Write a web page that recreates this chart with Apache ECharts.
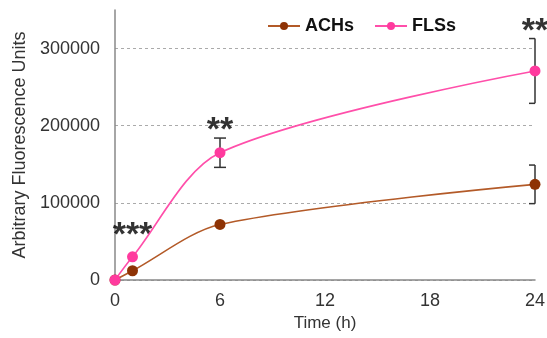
<!DOCTYPE html>
<html>
<head>
<meta charset="utf-8">
<script src="https://cdn.jsdelivr.net/npm/echarts@6/dist/echarts.min.js"></script>
<style>
  html, body { margin: 0; padding: 0; background: #fff; }
  #chart { width: 547px; height: 338px; }
</style>
</head>
<body>
<div id="chart"></div>
<script>
// data
var hours = [0, 1, 6, 24];
var achMean = [0, 12000, 72000, 124000];
var achErr = [0, 0, 0, 25000];
var flsMean = [0, 30000, 165000, 271000];
var flsErr = [0, 0, 19000, 42000];
// significance marks: [hour, y position, text]
var sigHours = [1, 6, 24];
var sigY = [57000, 193000, 322000];
var sigText = ['***', '**', '**'];

var chart = echarts.init(document.getElementById('chart'));

function pairs(xs, ys) {
  var out = [];
  for (var i = 0; i < xs.length; i++) out.push([xs[i], ys[i]]);
  return out;
}

function errData(xs, ys, es) {
  var out = [];
  for (var i = 0; i < xs.length; i++) {
    if (es[i] > 0) out.push([xs[i], ys[i] - es[i], ys[i] + es[i]]);
  }
  return out;
}

function renderErr(params, api) {
  var lo = api.coord([api.value(0), api.value(1)]);
  var hi = api.coord([api.value(0), api.value(2)]);
  var w = 6;
  // caps at the right edge of the plot only stick out to the left
  var wr = api.value(0) >= 24 ? 0 : w;
  var st = { stroke: '#333', lineWidth: 1.5 };
  return {
    type: 'group',
    children: [
      { type: 'line', shape: { x1: lo[0], y1: lo[1], x2: hi[0], y2: hi[1] }, style: st },
      { type: 'line', shape: { x1: lo[0] - w, y1: lo[1], x2: lo[0] + wr, y2: lo[1] }, style: st },
      { type: 'line', shape: { x1: hi[0] - w, y1: hi[1], x2: hi[0] + wr, y2: hi[1] }, style: st }
    ]
  };
}

var sigData = [];
for (var i = 0; i < sigHours.length; i++) {
  sigData.push({ value: [sigHours[i], sigY[i]], label: { formatter: sigText[i] } });
}

chart.setOption({
  animation: false,
  textStyle: { fontFamily: 'Liberation Sans, Arial, sans-serif' },
  grid: { left: 115, right: 12, top: 10, bottom: 58, outerBoundsMode: 'none' },
  legend: {
    top: 12,
    left: 262,
    itemWidth: 32,
    itemHeight: 10,
    itemGap: 20,
    data: ['ACHs', 'FLSs'],
    textStyle: { fontSize: 18, fontWeight: 'bold', color: '#111' }
  },
  xAxis: {
    type: 'value',
    min: 0,
    max: 24,
    interval: 6,
    name: 'Time (h)',
    nameLocation: 'middle',
    nameGap: 20,
    nameTextStyle: { fontSize: 17, color: '#333' },
    axisLine: { lineStyle: { color: '#888', width: 1.5 } },
    axisTick: { show: false },
    axisLabel: { fontSize: 18, color: '#333', margin: 12 },
    splitLine: { show: false }
  },
  yAxis: {
    type: 'value',
    min: 0,
    max: 350000,
    interval: 100000,
    name: 'Arbitrary Fluorescence Units',
    nameLocation: 'middle',
    nameGap: 80,
    nameTextStyle: { fontSize: 18, color: '#333' },
    axisLine: { show: true, lineStyle: { color: '#888', width: 1.5 } },
    axisTick: { show: false },
    axisLabel: {
      fontSize: 18,
      color: '#333',
      margin: 15,
      formatter: function (v) { return v > 300000 ? '' : String(v); }
    },
    splitLine: { show: true, showMaxLine: false, lineStyle: { color: '#aaa', type: [3, 3], width: 1 } }
  },
  series: [
    {
      name: 'ACHs',
      type: 'line',
      smooth: 0.3,
      data: pairs(hours, achMean),
      symbol: 'circle',
      symbolSize: 11,
      lineStyle: { color: '#B35A28', width: 1.6 },
      itemStyle: { color: '#8E3305' },
      z: 3
    },
    {
      name: 'FLSs',
      type: 'line',
      smooth: 0.3,
      data: pairs(hours, flsMean),
      symbol: 'circle',
      symbolSize: 11,
      lineStyle: { color: '#FF4FAA', width: 1.6 },
      itemStyle: { color: '#FF3A9E' },
      z: 4
    },
    {
      type: 'custom',
      renderItem: renderErr,
      data: errData(hours, achMean, achErr),
      encode: { x: 0, y: [1, 2] },
      z: 2
    },
    {
      type: 'custom',
      renderItem: renderErr,
      data: errData(hours, flsMean, flsErr),
      encode: { x: 0, y: [1, 2] },
      z: 2
    },
    {
      type: 'scatter',
      data: sigData,
      symbolSize: 0,
      label: {
        show: true,
        position: 'inside',
        fontSize: 34,
        fontWeight: 'bold',
        color: '#000'
      },
      silent: true
    }
  ]
});
</script>
</body>
</html>
